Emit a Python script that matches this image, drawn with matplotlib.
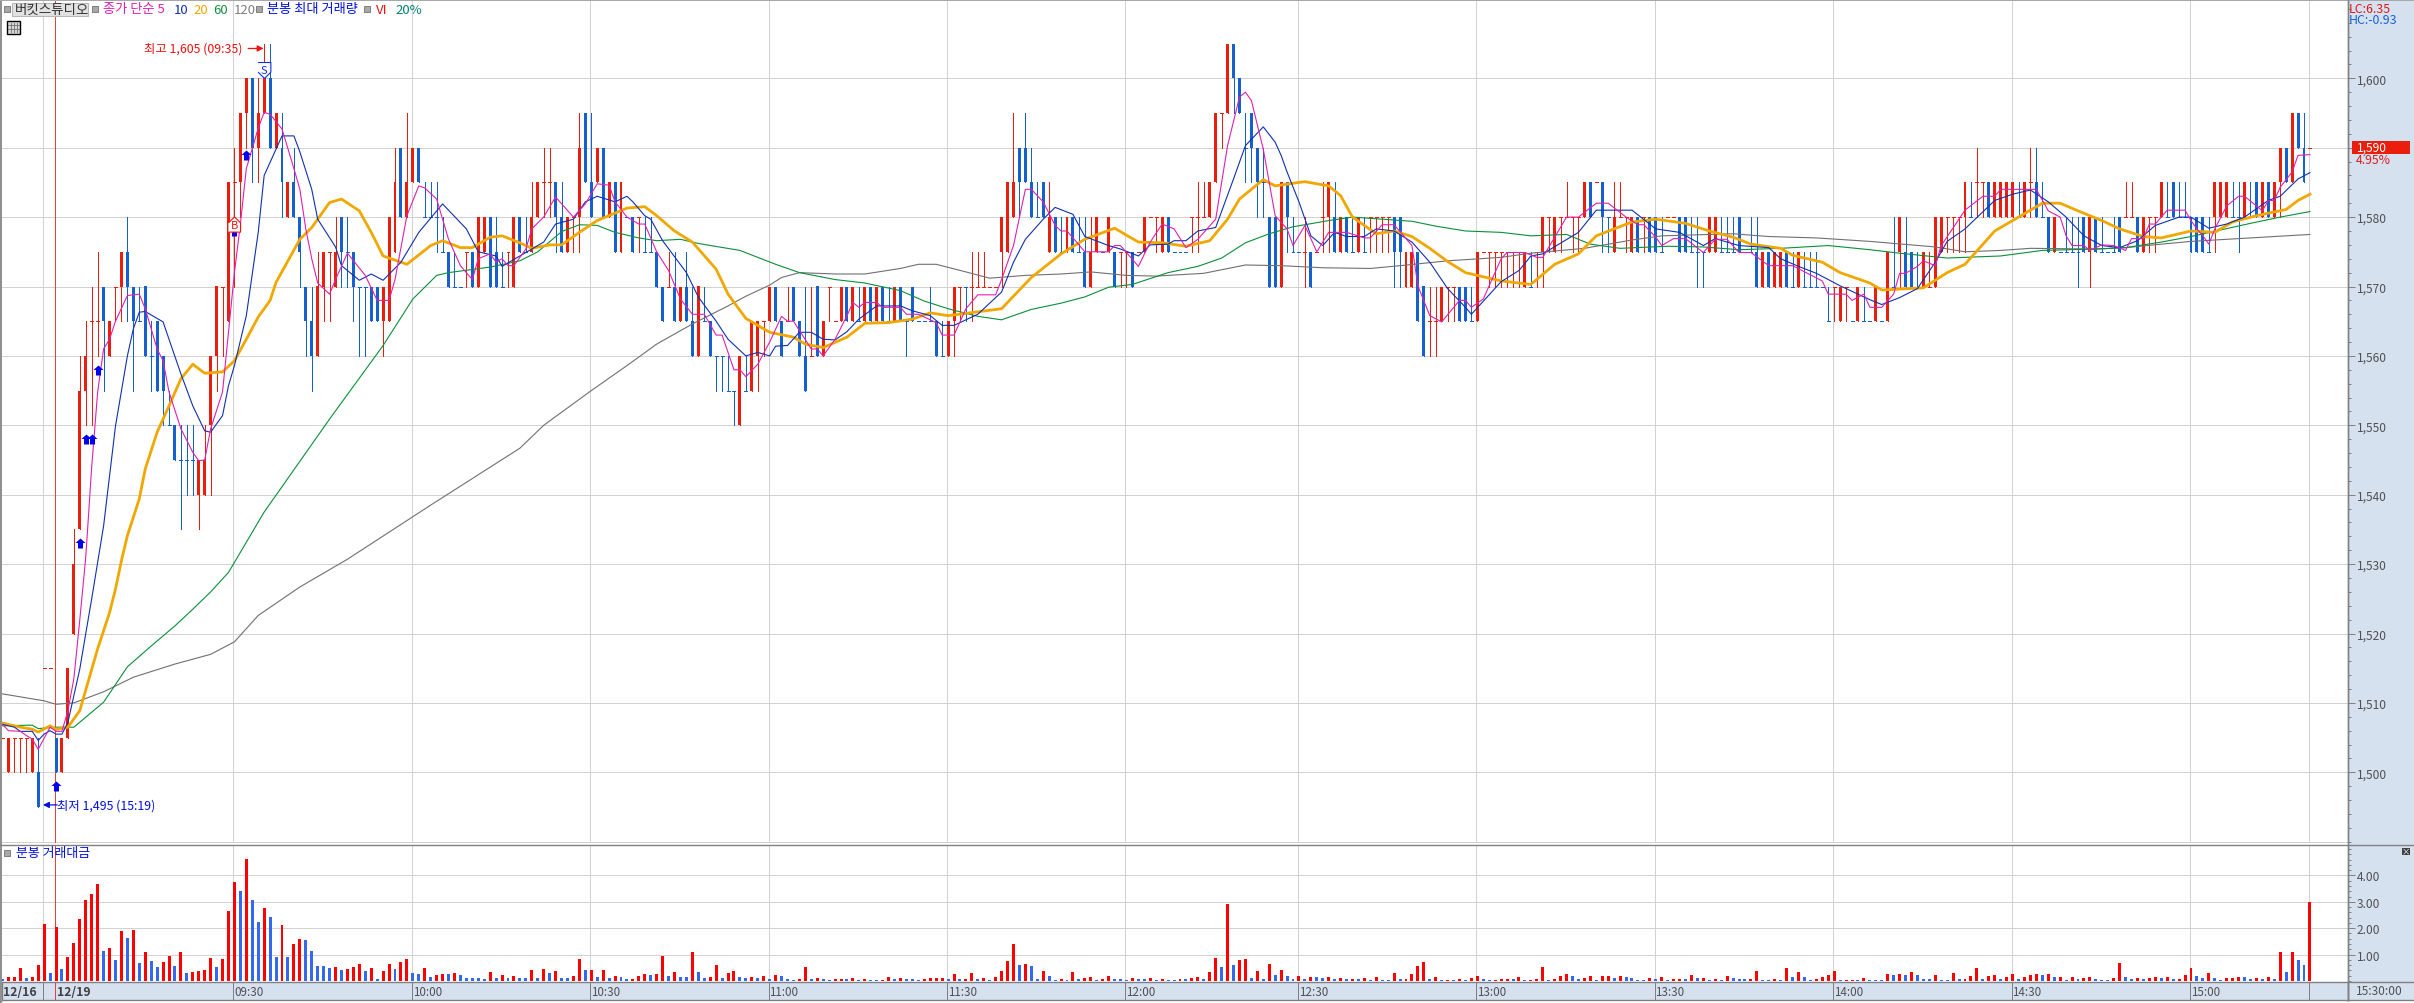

# minute chart of one trading session with moving averages and traded value below
import matplotlib
matplotlib.use('Agg')
import numpy as np
import matplotlib.pyplot as plt
from matplotlib.patches import Rectangle

plt.rcParams['font.family'] = ['Noto Sans CJK KR', 'DejaVu Sans']

# prices per bar
opens = [1505,1500,1505,1505,1505,1500,1500,1515,1515,1505, 1500,1505,1520,1535,1555,1565,1565,1570,1560,1570,
 1570,1575,1570,1565,1570,1560,1565,1560,1550,1550, 1545,1545,1545,1540,1540,1550,1560,1570,1565,1585,
 1585,1595,1600,1590,1595,1600,1590,1590,1580,1585, 1580,1570,1565,1560,1570,1575,1570,1580,1575,1575,
 1570,1570,1570,1570,1565,1565,1575,1590,1580,1585, 1590,1580,1580,1580,1575,1575,1570,1570,1575,1575,
 1570,1575,1580,1575,1570,1575,1570,1580,1575,1575, 1580,1585,1585,1585,1580,1575,1580,1580,1595,1585,
 1585,1590,1580,1585,1575,1580,1580,1580,1575,1575, 1575,1570,1570,1570,1565,1570,1565,1560,1565,1565,
 1560,1560,1555,1555,1550,1555,1555,1560,1565,1565, 1570,1565,1565,1570,1565,1560,1560,1570,1560,1570,
 1565,1565,1570,1565,1565,1565,1570,1565,1570,1565, 1565,1570,1565,1570,1565,1565,1565,1565,1560,1560,
 1565,1570,1570,1570,1570,1570,1570,1570,1575,1575, 1580,1590,1590,1585,1580,1585,1575,1580,1575,1575,
 1580,1575,1575,1570,1575,1575,1575,1575,1575,1575, 1575,1575,1575,1580,1580,1575,1580,1575,1575,1575,
 1580,1580,1580,1580,1585,1595,1595,1605,1600,1590, 1595,1590,1585,1580,1580,1570,1585,1575,1575,1575,
 1575,1575,1580,1580,1580,1575,1580,1575,1575,1575, 1580,1580,1580,1580,1580,1580,1570,1570,1575,1570,
 1565,1565,1565,1570,1570,1570,1570,1565,1565,1575, 1575,1575,1575,1575,1575,1575,1570,1570,1575,1575,
 1580,1575,1580,1580,1580,1580,1580,1585,1585,1585, 1580,1575,1580,1580,1575,1580,1580,1580,1580,1575,
 1580,1580,1580,1580,1575,1575,1575,1575,1575,1575, 1575,1575,1580,1575,1575,1575,1570,1575,1570,1570,
 1575,1570,1570,1570,1570,1570,1570,1565,1570,1565, 1570,1565,1565,1565,1565,1565,1565,1565,1570,1575,
 1575,1575,1570,1570,1570,1570,1575,1580,1580,1580, 1580,1580,1585,1585,1585,1580,1580,1580,1580,1580,
 1580,1585,1585,1580,1580,1575,1575,1575,1575,1575, 1580,1575,1580,1575,1575,1575,1580,1580,1580,1580,
 1575,1580,1580,1580,1580,1585,1580,1580,1580,1580, 1580,1575,1580,1580,1580,1580,1580,1580,1580,1585,
 1580,1585,1580,1585,1590,1585,1595,1590,1590]
closes = [1505,1505,1505,1505,1505,1505,1495,1515,1515,1500, 1505,1515,1530,1555,1560,1565,1565,1565,1565,1570,
 1575,1570,1565,1565,1560,1560,1555,1555,1550,1545, 1545,1545,1545,1545,1545,1560,1570,1570,1585,1585,
 1595,1600,1590,1595,1600,1590,1595,1585,1585,1580, 1575,1565,1560,1570,1575,1575,1575,1575,1575,1570,
 1570,1570,1565,1565,1570,1580,1585,1580,1585,1590, 1585,1580,1580,1580,1575,1570,1570,1570,1575,1570,
 1580,1580,1570,1570,1570,1575,1580,1575,1575,1580, 1585,1585,1585,1580,1575,1580,1580,1590,1585,1580,
 1590,1580,1585,1575,1585,1580,1575,1580,1575,1575, 1570,1565,1570,1565,1570,1565,1560,1570,1565,1560,
 1560,1560,1555,1555,1560,1555,1565,1565,1565,1570, 1565,1560,1565,1565,1560,1555,1560,1560,1565,1570,
 1565,1570,1565,1570,1565,1570,1565,1570,1565,1565, 1570,1565,1565,1565,1565,1565,1565,1560,1560,1565,
 1570,1570,1570,1570,1570,1570,1570,1570,1580,1585, 1585,1585,1585,1580,1580,1580,1580,1575,1575,1580,
 1575,1575,1570,1575,1580,1575,1580,1570,1575,1575, 1570,1575,1580,1580,1580,1580,1575,1575,1575,1575,
 1580,1580,1580,1585,1595,1595,1605,1600,1595,1590, 1590,1585,1585,1570,1570,1585,1580,1575,1575,1575,
 1570,1575,1580,1585,1575,1580,1575,1575,1580,1575, 1580,1580,1580,1580,1575,1575,1575,1575,1565,1560,
 1565,1565,1570,1570,1570,1565,1565,1565,1575,1575, 1575,1575,1575,1575,1575,1575,1575,1570,1575,1580,
 1580,1580,1580,1580,1580,1580,1585,1580,1585,1580, 1580,1580,1580,1580,1580,1575,1580,1575,1575,1575,
 1580,1580,1575,1575,1575,1575,1575,1580,1580,1575, 1575,1575,1575,1575,1575,1570,1575,1570,1575,1575,
 1570,1570,1575,1570,1570,1570,1570,1565,1570,1570, 1570,1565,1570,1565,1565,1570,1565,1575,1570,1580,
 1570,1570,1570,1575,1570,1580,1580,1580,1580,1580, 1585,1580,1585,1585,1580,1585,1585,1585,1585,1580,
 1585,1585,1580,1580,1575,1580,1575,1575,1575,1575, 1575,1580,1575,1575,1575,1575,1575,1580,1580,1575,
 1580,1580,1580,1585,1580,1580,1580,1580,1575,1575, 1575,1575,1585,1585,1585,1580,1580,1585,1580,1580,
 1585,1580,1585,1590,1585,1595,1590,1585,1590]
highs = [1505,1505,1505,1505,1505,1505,1505,1515,1515,1505, 1505,1515,1535,1560,1565,1570,1575,1570,1565,1570,
 1575,1580,1570,1570,1570,1565,1565,1560,1555,1550, 1550,1550,1550,1545,1550,1560,1570,1570,1585,1590,
 1595,1600,1600,1600,1605,1605,1595,1595,1585,1590, 1580,1570,1570,1575,1575,1575,1580,1580,1580,1575,
 1570,1570,1570,1570,1570,1580,1590,1590,1595,1590, 1590,1585,1585,1585,1580,1575,1575,1570,1575,1575,
 1580,1580,1580,1580,1575,1575,1580,1580,1580,1585, 1585,1590,1590,1585,1585,1580,1580,1595,1595,1595,
 1590,1590,1585,1585,1585,1580,1580,1580,1580,1580, 1575,1570,1575,1575,1570,1575,1570,1570,1570,1565,
 1560,1560,1560,1555,1560,1560,1565,1565,1565,1570, 1570,1565,1570,1570,1565,1570,1570,1570,1565,1570,
 1565,1570,1570,1570,1570,1570,1570,1570,1570,1570, 1570,1570,1565,1570,1565,1565,1570,1565,1565,1565,
 1570,1570,1570,1575,1575,1575,1570,1570,1580,1585, 1595,1590,1595,1590,1585,1585,1585,1580,1580,1580,
 1580,1580,1580,1580,1580,1575,1580,1575,1575,1575, 1575,1575,1580,1580,1580,1580,1580,1575,1575,1575,
 1580,1585,1585,1585,1595,1595,1605,1605,1600,1595, 1595,1590,1590,1580,1580,1585,1585,1580,1575,1580,
 1575,1575,1585,1585,1585,1580,1580,1580,1580,1580, 1580,1580,1580,1580,1580,1580,1575,1575,1575,1570,
 1570,1570,1570,1570,1570,1570,1570,1570,1575,1575, 1575,1575,1575,1575,1575,1575,1575,1575,1575,1580,
 1580,1580,1580,1585,1580,1580,1585,1585,1585,1585, 1580,1585,1585,1580,1580,1580,1580,1580,1580,1580,
 1580,1580,1580,1580,1580,1580,1575,1580,1580,1580, 1580,1580,1580,1575,1580,1580,1575,1575,1575,1575,
 1575,1575,1575,1575,1575,1575,1570,1570,1570,1570, 1570,1565,1570,1570,1565,1570,1565,1575,1580,1580,
 1580,1575,1575,1575,1575,1580,1580,1580,1580,1580, 1585,1585,1590,1585,1585,1585,1585,1585,1585,1585,
 1585,1590,1590,1585,1580,1580,1575,1580,1580,1580, 1580,1580,1580,1580,1575,1580,1580,1585,1585,1580,
 1580,1580,1580,1585,1585,1585,1585,1585,1580,1580, 1580,1580,1585,1585,1585,1585,1585,1585,1585,1585,
 1585,1585,1585,1590,1590,1595,1595,1595,1590]
lows = [1505,1500,1500,1500,1500,1500,1495,1515,1515,1500, 1500,1505,1520,1535,1550,1550,1560,1555,1560,1565,
 1565,1565,1555,1565,1560,1555,1555,1550,1550,1545, 1535,1540,1540,1535,1540,1540,1555,1560,1565,1570,
 1580,1590,1585,1585,1595,1590,1590,1580,1580,1580, 1570,1560,1555,1560,1565,1565,1570,1570,1570,1565,
 1560,1560,1565,1565,1560,1565,1575,1580,1580,1585, 1585,1580,1580,1575,1575,1570,1570,1570,1570,1570,
 1570,1575,1570,1570,1570,1570,1570,1575,1575,1575, 1580,1580,1580,1575,1575,1575,1575,1575,1585,1580,
 1585,1580,1580,1575,1575,1580,1575,1575,1575,1575, 1570,1565,1570,1565,1565,1565,1560,1560,1565,1560,
 1555,1555,1555,1550,1550,1555,1555,1555,1560,1565, 1565,1560,1565,1565,1560,1555,1560,1560,1560,1565,
 1565,1565,1565,1565,1565,1565,1565,1565,1565,1565, 1565,1565,1560,1565,1565,1565,1565,1560,1560,1560,
 1560,1565,1565,1565,1570,1570,1570,1570,1570,1575, 1580,1580,1585,1580,1580,1580,1575,1575,1575,1575,
 1575,1575,1570,1570,1575,1575,1575,1570,1570,1570, 1570,1575,1575,1580,1575,1575,1575,1575,1575,1575,
 1575,1575,1580,1580,1585,1590,1595,1595,1595,1585, 1585,1580,1580,1570,1570,1570,1575,1575,1575,1570,
 1570,1575,1575,1575,1575,1575,1575,1575,1575,1575, 1575,1575,1575,1575,1570,1570,1570,1570,1565,1560,
 1560,1560,1565,1565,1565,1565,1565,1565,1565,1575, 1570,1570,1570,1570,1570,1570,1570,1570,1570,1570,
 1575,1575,1575,1580,1575,1575,1580,1580,1585,1575, 1575,1575,1580,1575,1575,1575,1575,1575,1575,1575,
 1580,1580,1575,1575,1575,1570,1570,1575,1575,1575, 1575,1575,1575,1575,1575,1570,1570,1570,1570,1570,
 1570,1570,1570,1570,1570,1570,1570,1565,1565,1565, 1565,1565,1565,1565,1565,1565,1565,1565,1570,1570,
 1570,1570,1570,1570,1570,1570,1575,1575,1575,1575, 1575,1580,1580,1580,1580,1580,1580,1580,1580,1580,
 1580,1580,1580,1580,1575,1575,1575,1575,1575,1570, 1575,1570,1575,1575,1575,1575,1575,1580,1580,1575,
 1575,1575,1575,1580,1580,1580,1580,1580,1575,1575, 1575,1575,1575,1580,1580,1580,1575,1580,1580,1580,
 1580,1580,1580,1580,1585,1585,1590,1585,1590]
# R = rising bar, B = falling bar
bar_kinds = ("RRRRRRBRRB" "RRRRRRRBRR" "RBBBBBBBBB" "BBBRRRRRRR" "RRBRRBRBRB" "BBBRRRRBBB" "BBBBRRRBRR" "BBBBBBBBRB"
 "RRBBBRRBBR" "RRRBBRRRBB" "RBRBRBBRBB" "BBRBRBBRBB" "BBBBRBRRRR" "BBRBBBRBRR" "RRBRBRBRBB" "RBBBBBBBBR"
 "RRBRRRRRRR" "RBBBBBRBBR" "BBBRRBRBRR" "BRRRRRBBBB" "RRRRRRRBBB" "BBBBBRBBBR" "BRRRBRBBRB" "RRRRBBRRBB"
 "RRRRRBBBRR" "RRRRRRRBRR" "RRRRRRRBRB" "BRRRRBRBBB" "RRBBBBBRRB" "BBBBBBRBRR" "BBRBBBBBRR" "RBRBBRBRBR"
 "BBBRRRRRRR" "RBRRBRRRRB" "RRBBBRBBBB" "BRBBBBBRRB" "RRRRBBBBBB" "BBRRRBBRBB" "RBRRBRBBR")

# minute traded value, lower panel
trade_value = [.08,.15,.15,.49,.11,.15,.6,2.16,.3,2.05, .45,.91,1.44,2.35,3.07,3.3,3.67,1.14,1.25,.8,
 1.89,1.63,1.93,.68,1.1,.76,.53,.72,.95,.57, 1.1,.3,.34,.38,.42,.87,.53,.83,2.65,3.75,
 3.41,4.62,3.07,2.23,2.77,2.42,.91,2.12,.91,1.4, 1.59,1.55,1.14,.57,.57,.49,.53,.42,.45,.53,
 .64,.38,.49,.08,.38,.64,.45,.72,.83,.3, .27,.49,.15,.23,.27,.27,.3,.23,.11,.11,
 .11,.08,.34,.11,.23,.11,.19,.11,.11,.42, .11,.45,.3,.38,.11,.11,.19,.83,.42,.42,
 .15,.42,.11,.19,.15,.08,.08,.19,.27,.23, .27,.95,.19,.34,.15,.15,1.1,.34,.11,.15,
 .61,.11,.3,.38,.15,.11,.15,.11,.19,.08, .23,.19,.08,.04,.08,.53,.08,.11,.08,.04,
 .08,.08,.08,.11,.04,.08,.04,.04,.04,.15, .08,.11,.08,.08,.04,.08,.11,.11,.11,.08,
 .27,.08,.08,.3,.08,.11,.04,.15,.38,.76, 1.4,.61,.64,.57,.08,.38,.19,.04,.08,.04,
 .34,.08,.11,.15,.04,.08,.19,.08,.08,.04, .11,.08,.08,.11,.04,.08,.04,.04,.08,.08,
 .11,.15,.08,.34,.87,.53,2.92,.61,.8,.83, .11,.38,.08,.64,.23,.42,.19,.08,.19,.08,
 .15,.15,.11,.15,.08,.11,.08,.08,.08,.11, .04,.15,.04,.04,.3,.08,.08,.27,.57,.72,
 .08,.15,.04,.04,.04,.08,.04,.11,.19,.08, .04,.04,.08,.08,.08,.15,.04,.04,.08,.53,
 .04,.08,.19,.27,.19,.08,.11,.19,.04,.19, .19,.11,.19,.15,.11,.04,.04,.11,.08,.15,
 .04,.08,.08,.08,.23,.11,.11,.04,.08,.04, .19,.11,.08,.08,.08,.38,.04,.04,.08,.04,
 .49,.15,.34,.15,.04,.08,.15,.23,.38,.04, .04,.04,.04,.11,.04,.04,.04,.27,.23,.27,
 .23,.34,.23,.08,.08,.23,.04,.04,.3,.08, .08,.19,.49,.08,.19,.23,.08,.15,.27,.08,
 .15,.23,.27,.23,.27,.15,.15,.04,.15,.08, .11,.15,.08,.04,.04,.11,.68,.15,.08,.11,
 .08,.11,.15,.11,.15,.08,.08,.23,.49,.19, .11,.3,.11,.04,.11,.11,.15,.15,.08,.11,
 .08,.15,.08,1.1,.34,1.1,.8,.61,3.0]
value_kinds = ("BRRRBRRRBR" "BRRRRRRBRB" "RBRBRBBRRB" "RBRRRRBRRR" "BRBBRBBRBR" "RBBBBBRBRR" "RBRBRRBRRB" "BRBRRBRBBB"
 "BBRBRBRBBR" "BRBRBBRRBR" "BRBRBBRRRB" "RRBRBBRBBR" "RBRRBBRBRB" "RBBBRRBRBB" "RRBRBRBBRR" "BRBBBRRRRB"
 "RBRRBRBRRR" "RBRBBRBBRB" "RBRRBRRBBB" "RBBRBRBBRB" "RRBRRBRBRR" "BRBRBRBBRB" "RBBRBRBRBR" "BRBBRBRRRR"
 "BRBRBRBRRB" "BRRRBRBRRR" "BRRRBBRRBR" "RBRBBBBRBR" "BRRBRBRBRB" "RBBBRRBBRB" "RBRBBRRRRB" "RRBRBBBRBR"
 "BRBBBRBBRB" "RRRBRRBRRB" "RRRBRBRBRB" "RRBBBRRBBR" "BRRBRBRRRB" "BRBBRRRBBR" "BRBRBRBBR")

# moving averages, read at knots along each line
ma5_idx = [0,1,3,4,5,6,8,9,10,11,12,13,14,15,16,17,18,19,21,23,24,26,27,28,30,32,33,34,35,37,38,39,40,41,43,44,45,47,49,50,51,52,53,55,56,58,61,63,65,66,68,70,71,73,75,77,79,80,82,83,84,85,86,88,89,91,93,96,98,100,102,103,105,107,108,110,112,114,116,118,120,121,123,124,125,127,129,131,132,133,136,137,138,140,142,143,144,145,147,148,151,152,154,157,158,160,162,164,167,168,170,172,173,175,177,178,179,182,186,187,188,191,193,195,197,199,201,204,206,208,209,210,212,214,216,217,219,221,223,226,229,230,232,234,237,238,240,242,245,246,247,249,252,253,256,258,259,263,265,268,270,273,275,276,278,279,281,283,286,288,290,292,294,297,299,301,306,307,310,311,313,314,316,318,319,320,322,323,325,326,330,333,335,336,342,344,346,347,348,350,351,353,355,357,358,360,361,362,364,367,368,369,370,371,372,374,376,377,380,381,382,383,385,386,388]
ma5_val = [1506.9,1506,1505.9,1505.3,1504.8,1503.3,1506.5,1505.9,1505.9,1508.9,1513.5,1522,1531,1544,1554.8,1561,1562.4,1565,1568.7,1568.9,1566.8,1561,1559.3,1554.8,1549.5,1546.1,1544.9,1545,1549.5,1554.8,1563.4,1572,1579,1587,1592.8,1595.1,1594.8,1592.7,1587,1584,1578.3,1574,1570.5,1568.9,1571,1574.8,1571.6,1568,1568,1571,1580.2,1584.5,1584.2,1582.6,1576.8,1573,1571,1574,1574.7,1573.5,1574,1573,1573,1575.4,1578.3,1580,1582.9,1580,1581.9,1584.8,1584.6,1582.2,1580,1579,1579,1575,1572.3,1568.2,1566,1566,1563,1563,1558,1558,1557,1558.8,1562,1565.7,1565,1565,1561,1561,1560,1562.4,1565.8,1567.7,1567,1567.7,1567.7,1567,1567,1566,1566,1564.8,1563,1563,1566.8,1568.8,1568.8,1571,1575.9,1584,1584,1582.2,1578.8,1578,1578,1575,1575,1575.9,1575.9,1572.9,1576.4,1579,1578.3,1575.6,1576.8,1579.7,1590.3,1597.3,1598,1596.8,1589.8,1580.2,1578.3,1575.9,1578.8,1575,1577.8,1577.8,1577,1577,1578.9,1578.9,1575.9,1570.1,1565.8,1564.9,1568,1568,1567,1568.2,1574,1574.9,1574.9,1574.2,1574.2,1580,1580,1582,1582,1580,1578.9,1578.9,1577.1,1575.9,1576.9,1576.9,1574.9,1576.8,1576.8,1574.9,1574.9,1573,1573,1573,1570.8,1568.9,1568.9,1568,1568.9,1567,1567,1568.9,1571.9,1571.9,1572.9,1573.7,1573,1575.9,1581,1583,1583,1584,1584,1580.9,1580,1577.3,1575.9,1575.9,1575.2,1576,1575.9,1575.2,1576.9,1576.9,1579,1579,1581,1581,1579.5,1578.3,1577.3,1576.1,1578.3,1581.6,1583,1583,1580.9,1582.4,1582.4,1584.3,1586.5,1588.9,1589]
ma10_idx = [0,2,3,5,6,7,8,9,10,11,13,14,15,17,18,19,21,22,23,24,27,28,30,32,34,35,37,38,39,41,43,44,46,47,49,50,52,53,56,57,60,62,64,67,70,74,78,80,83,84,87,89,91,93,96,98,100,103,105,106,108,109,111,115,117,120,122,125,127,129,130,132,134,136,138,140,142,144,147,151,153,156,158,160,164,168,170,172,175,177,180,182,186,188,191,193,196,197,199,201,204,207,209,212,214,215,216,218,220,222,224,226,229,231,234,237,240,243,246,247,252,255,257,259,265,268,274,278,282,286,288,292,297,299,302,305,309,314,316,319,322,325,327,330,335,338,341,344,347,350,353,356,359,362,366,368,371,374,377,381,383,386,388]
ma10_val = [1506.9,1506.5,1505.9,1505.9,1504.6,1505.5,1506,1505.5,1505.5,1507.2,1514.9,1520,1525,1535.5,1542.7,1549.9,1560,1563.9,1566.3,1566.4,1564.9,1562.4,1557.4,1552.8,1549.2,1549,1551.4,1555.7,1558.6,1565.8,1577.8,1586,1589.8,1591.7,1591.7,1589.4,1584,1579.7,1575.7,1573,1570.9,1571.8,1570.9,1573.5,1577.8,1581.9,1578.3,1575,1574.4,1572.9,1574.4,1575.4,1576.4,1579,1579.7,1582.2,1583,1582.2,1583,1582.2,1580.2,1579.7,1576.6,1572,1568.5,1565,1562.4,1560,1560.5,1560,1561.4,1561.5,1563.4,1563.4,1562.4,1562.3,1563.5,1565.3,1567.2,1567.2,1566.5,1565.8,1564.4,1564.4,1566,1569.2,1573.5,1576.8,1579.7,1581.4,1580.4,1577.2,1575.9,1575.4,1574.4,1576,1576.1,1576.6,1576.6,1578,1578.5,1585.5,1590.3,1593,1590.8,1588.9,1586.5,1582.2,1577.3,1575.9,1577.8,1577.2,1577.2,1578.3,1578,1576.4,1573.5,1569.7,1567,1566,1570.7,1572.3,1574.4,1574.7,1577.8,1581,1581,1578.3,1577.8,1575.9,1576.9,1575.9,1575.6,1574,1572.9,1571.9,1570.1,1568.1,1567.4,1568.4,1569.7,1573.5,1576.5,1578.3,1582.4,1583.3,1583.9,1582.2,1580,1577.3,1575.9,1575.6,1576.6,1578.8,1580,1580,1578.4,1579,1580,1582.4,1583,1585.5,1586.4]
ma20_idx = [0,3,5,6,8,9,11,13,16,18,19,20,21,23,24,26,28,30,32,34,37,39,41,43,45,46,50,52,55,57,60,62,64,68,72,74,77,79,82,84,87,89,92,94,97,100,105,108,110,113,116,120,122,125,129,133,135,138,142,145,149,153,156,159,168,173,178,182,187,191,195,199,203,206,208,212,214,218,219,223,225,227,231,234,237,240,243,246,252,257,261,265,268,274,278,283,287,291,294,299,301,306,309,314,316,323,327,330,335,339,343,346,349,353,356,360,363,368,372,375,379,384,386,388]
ma20_val = [1507.1,1506.5,1506.2,1505.8,1506.7,1506.2,1506.5,1508.9,1517.8,1523,1526.4,1530.5,1534.1,1539.4,1543.7,1549,1552.8,1556.7,1558.8,1557.5,1557.7,1559.3,1562.4,1565.6,1568,1570.6,1576.8,1578.5,1582.1,1582.6,1580.9,1577.8,1574.4,1573.2,1575.9,1576.6,1575.6,1575.6,1577.1,1577.3,1576.3,1575.5,1576,1576,1577.8,1579.5,1581.3,1581.5,1580.2,1578,1576.4,1572.5,1568.9,1565.4,1563.4,1562.7,1561.7,1561.2,1562.7,1564.7,1564.8,1565.3,1566.2,1565.8,1566.8,1571.3,1574.7,1576.8,1578.4,1576.4,1576.3,1575.8,1576.6,1579.7,1582.6,1585.4,1584.5,1585,1585.1,1584.5,1583.1,1580,1577.6,1578,1577.2,1575.5,1573.6,1572,1570.8,1570.3,1573.2,1574.7,1577.3,1579.3,1579.7,1579.1,1578,1577.1,1576.1,1575.5,1574.5,1573.5,1572,1570.5,1569.5,1569.8,1572,1573.2,1578,1580,1582,1582,1580.9,1579.5,1578.3,1577.2,1577,1578,1577.8,1579.3,1580.2,1581.1,1582.4,1583.3]
ma60_idx = [0,5,6,9,12,17,21,25,29,32,35,38,44,55,64,69,73,75,82,87,90,94,97,100,103,107,110,114,117,124,127,130,134,140,145,151,155,159,164,168,173,178,182,186,190,196,201,205,209,213,217,223,227,237,241,246,252,257,263,267,272,280,286,292,299,307,314,319,327,336,343,352,357,363,368,378,383,388]
ma60_val = [1506.7,1506.8,1506.3,1506.5,1506.5,1510.1,1515.2,1518.2,1521.1,1523.5,1526,1528.8,1537.5,1550.9,1561.5,1568.2,1571.6,1572,1572.8,1573.7,1575,1577.9,1578.9,1578.8,1577.8,1577,1576.6,1576.8,1576.2,1575.2,1574.2,1573.2,1572,1571,1570.5,1569.4,1567.9,1566.8,1565.7,1565.2,1566.7,1567.6,1568.5,1569.9,1570.3,1572,1572.9,1574.1,1576.3,1577.6,1578.6,1579.5,1580,1579.4,1578.7,1578,1577.8,1577.3,1577.5,1576.1,1575.5,1575.8,1575.7,1575.3,1575.5,1575.9,1575.3,1574.8,1574.1,1574.4,1575.2,1575.4,1575.6,1576.4,1577.2,1579.1,1580,1580.8]
ma120_idx = [0,7,9,12,17,22,29,35,39,43,50,58,72,87,91,99,105,110,116,122,125,129,131,134,140,145,151,154,157,162,166,172,178,183,189,194,202,209,215,222,230,235,243,252,257,266,274,279,291,297,305,314,325,330,336,341,352,357,363,368,378,388]
ma120_val = [1511.3,1510.3,1509.8,1510,1511.6,1513.7,1515.6,1517,1518.8,1522.6,1526.7,1530.7,1538.5,1546.7,1550,1555,1558.6,1561.7,1564.6,1567.2,1568.6,1570.2,1571.3,1572,1571.8,1571.8,1572.6,1573.2,1573.2,1572.1,1571.2,1571.6,1571.8,1572.1,1571.6,1571.5,1571.9,1573.1,1573,1572.7,1572.6,1573,1573.7,1574.2,1574.8,1575.5,1576.7,1577.3,1577.6,1577.2,1577,1576.5,1575.7,1575,1575.2,1575.5,1575.4,1575.6,1576.1,1576.5,1577,1577.5]

# time axis
time_idx = [39,69,99,129,159,189,218,248,278,308,338,368]
time_labels = ['09:30','10:00','10:30','11:00','11:30','12:00','12:30','13:00','13:30','14:00','14:30','15:00']
extra_grid_idx = [7,388]
price_ticks = list(range(1500,1601,10))
value_ticks = [1,2,3,4]

# signal arrows under the bars
arrow_idx = [9,13,14,15,16,39,41]
arrow_price = [1498,1533,1548,1548,1558,1578,1589]

W = 2414
H = 1004
# pixel layout
left = 2
right = 2347.7
main_top = 2
main_bottom = 843.5
vol_top = 846
vol_bottom = 982
strip_bottom = 1001
x_pitch = 5.947
x_start = 2.5
y_1500 = 773.3
y_per_won = 6.94
val_px = 26.4

red = '#EA1E0C'
blue = '#1460D0'
grid_c = '#D2D2D2'
frame_c = '#808080'
panel_c = '#D6E1F0'
text_c = '#505050'

fig = plt.figure(figsize=(W / 100, H / 100), dpi=100, facecolor='white')

def box(x0, y0, x1, y1):
    return [x0 / W, 1 - y1 / H, (x1 - x0) / W, (y1 - y0) / H]

x_lim = ((left - x_start) / x_pitch, (right - x_start) / x_pitch)
ax = fig.add_axes(box(left, main_top, right, main_bottom))
ax_v = fig.add_axes(box(left, vol_top, right, vol_bottom))
ax_t = fig.add_axes(box(left, vol_bottom + 1, right, strip_bottom))

ax.set_xlim(x_lim)
ax_v.set_xlim(x_lim)
ax_t.set_xlim(x_lim)
ax.set_ylim(1500 + (y_1500 - main_bottom) / y_per_won, 1500 + (y_1500 - main_top) / y_per_won)
ax_v.set_ylim(0, (vol_bottom - vol_top) / val_px)
ax_t.set_ylim(0, 1)

x = np.arange(len(closes))
o = np.array(opens, dtype=float)
c = np.array(closes, dtype=float)
hi = np.array(highs, dtype=float)
lo = np.array(lows, dtype=float)
bar_c = [red if k == 'R' else blue for k in bar_kinds]
line_w = 0.72

# grid
grid_x = [i - 0.18 for i in time_idx + extra_grid_idx]
for a in (ax, ax_v):
    a.vlines(grid_x, 0, 1, transform=a.get_xaxis_transform(), color=grid_c, lw=line_w, zorder=1, antialiased=False)
    a.vlines(8.85, 0, 1, transform=a.get_xaxis_transform(), color='#E64040', lw=line_w, zorder=1.5, antialiased=False)
ax.hlines(range(1490, 1601, 10), 0, 1, transform=ax.get_yaxis_transform(), color=grid_c, lw=line_w, zorder=1, antialiased=False)
ax_v.hlines(value_ticks, 0, 1, transform=ax_v.get_yaxis_transform(), color=grid_c, lw=line_w, zorder=1, antialiased=False)
ax_v.axhline(0, color=grid_c, lw=line_w, antialiased=False)

# candles
ax.vlines(x, lo, hi, colors=bar_c, lw=line_w, zorder=2, antialiased=False)
body_low = np.minimum(o, c)
body_h = np.abs(o - c)
ax.bar(x, body_h, bottom=body_low, width=0.5, color=bar_c, linewidth=0, zorder=2.1, antialiased=False)
flat = body_h == 0
ax.hlines(c[flat], x[flat] - 0.25, x[flat] + 0.25, colors=[b for b, f in zip(bar_c, flat) if f], lw=line_w, zorder=2.1, antialiased=False)

# moving averages
ax.plot(ma120_idx, ma120_val, color='#707070', lw=0.8, zorder=3)
ax.plot(ma60_idx, ma60_val, color='#089038', lw=0.8, zorder=3.1)
ax.plot(ma20_idx, ma20_val, color='#F0A800', lw=2.0, zorder=3.2)
ax.plot(ma10_idx, ma10_val, color='#1030B0', lw=0.8, zorder=3.3)
ax.plot(ma5_idx, ma5_val, color='#E020B0', lw=0.8, zorder=3.4)

# signal markers
up_arrow = [(0, 1), (1, 0.1), (0.5, 0.1), (0.5, -1), (-0.5, -1), (-0.5, 0.1), (-1, 0.1)]
ax.scatter(arrow_idx, arrow_price, marker=up_arrow, s=52, color='#0000F0', linewidths=0, zorder=4)
sell_flag = [(-0.8, 1), (0.8, 1), (0.8, -0.2), (0, -1), (-0.8, -0.2)]
buy_flag = [(-0.8, -1), (0.8, -1), (0.8, 0.2), (0, 1), (-0.8, 0.2)]
ax.scatter([44], [1601.2], marker=sell_flag, s=132, facecolor='white', edgecolor='#1030E0', linewidths=0.8, zorder=5)
ax.text(44, 1601.2, 'S', color='#1030E0', fontsize=8, ha='center', va='center', zorder=6)
ax.scatter([39], [1579], marker=buy_flag, s=120, facecolor='white', edgecolor='#F01010', linewidths=0.8, zorder=5)
ax.text(39, 1578.8, 'B', color='#F01010', fontsize=8, ha='center', va='center', zorder=6)

# high and low notes
ax.text(40.4, 1604.4, '최고 1,605 (09:35)', color='#F01010', fontsize=8.9, ha='right', va='center', zorder=6)
ax.annotate('', xy=(43.9, 1604.3), xytext=(41.3, 1604.3), zorder=6,
            arrowprops=dict(arrowstyle='-|>', color='#F01010', lw=0.9, shrinkA=0, shrinkB=0, mutation_scale=9))
ax.text(9.2, 1495.3, '최저 1,495 (15:19)', color='#0010E0', fontsize=8.9, ha='left', va='center', zorder=6)
ax.annotate('', xy=(6.8, 1495.3), xytext=(9.2, 1495.3), zorder=6,
            arrowprops=dict(arrowstyle='-|>', color='#0010E0', lw=0.9, shrinkA=0, shrinkB=0, mutation_scale=9))

# traded value bars
val_c = ['#FF0000' if k == 'R' else '#3568F0' for k in value_kinds]
ax_v.bar(x, trade_value, width=0.5, color=val_c, linewidth=0, zorder=2, antialiased=False)

# right hand scales
for a, ticks, minor in ((ax, price_ticks, np.arange(1490, 1612, 2)), (ax_v, value_ticks, np.arange(0, 5.01, 0.2))):
    a.set_xticks([])
    a.yaxis.tick_right()
    a.set_yticks(ticks)
    a.set_yticks(minor, minor=True)
    a.tick_params(axis='y', which='major', length=5, width=line_w, color=frame_c, labelcolor=text_c, labelsize=8.6, pad=1.5)
    a.tick_params(axis='y', which='minor', length=2.2, width=line_w, color=frame_c)
    for s in a.spines.values():
        s.set_visible(False)
    a.spines['right'].set_visible(True)
    a.spines['right'].set_color(frame_c)
    a.spines['right'].set_linewidth(1)
    a.patch.set_alpha(0)
ax.set_yticklabels([f'{p:,}' for p in price_ticks])
ax_v.set_yticklabels([f'{v:.2f}' for v in value_ticks])

# time strip
ax_t.set_facecolor(panel_c)
ax_t.set_xticks([])
ax_t.set_yticks([])
for s in ax_t.spines.values():
    s.set_color(frame_c)
    s.set_linewidth(1)
ax_t.vlines(grid_x, 0, 1, color=frame_c, lw=line_w, antialiased=False)
ax_t.vlines(8.85, 0, 1, color='#E64040', lw=line_w, antialiased=False)
for i, t in zip(time_idx, time_labels):
    ax_t.text(i - 0.05, 0.46, t, color=text_c, fontsize=8.4, ha='left', va='center')
ax_t.text(0.1, 0.46, '12/16', color='#404040', fontsize=8.8, weight='bold', ha='left', va='center')
ax_t.text(9.1, 0.46, '12/19', color='#404040', fontsize=8.8, weight='bold', ha='left', va='center')

# chrome drawn in picture pixels, under and over the panels
bg = fig.add_axes([0, 0, 1, 1], zorder=-1)
bg.set_xlim(0, W)
bg.set_ylim(H, 0)
bg.axis('off')
bg.add_patch(Rectangle((right, 0), W - right, strip_bottom, facecolor=panel_c, edgecolor='none'))

top = fig.add_axes([0, 0, 1, 1], zorder=10)
top.set_xlim(0, W)
top.set_ylim(H, 0)
top.axis('off')
top.patch.set_alpha(0)
top.add_patch(Rectangle((0, 0), 1.5, H, facecolor='#909090', edgecolor='none'))
top.add_patch(Rectangle((0, 0.5), W, 1.2, facecolor='#A8A8A8', edgecolor='none'))
top.plot([0, right], [845.5, 845.5], color=frame_c, lw=1)
top.plot([right, W], [845.5, 845.5], color=frame_c, lw=1)
top.plot([right, right], [0, strip_bottom], color=frame_c, lw=1)
top.plot([right, W], [983, 983], color=frame_c, lw=1)
top.plot([right, W], [strip_bottom, strip_bottom], color=frame_c, lw=1)
top.plot([right, right], [983, strip_bottom], color=frame_c, lw=1)

def px_text(x0, y0, s, color, size=9.5, **kw):
    top.text(x0, y0, s, color=color, fontsize=size, ha=kw.pop('ha', 'left'), va='center', **kw)

def small_square(x0, y0):
    top.add_patch(Rectangle((x0 - 3, y0 - 3), 6, 6, facecolor='#A8A8A8', edgecolor='#707070', lw=0.6))

# header row
small_square(6.5, 10)
top.add_patch(Rectangle((12, 3.5), 76, 13.5, facecolor='#E2E2E2', edgecolor='#B8B8B8', lw=0.8))
px_text(15, 10, '버킷스튜디오', '#303030', size=9.7)
small_square(94.5, 10)
px_text(103, 10, '종가 단순 5', '#E020B0')
px_text(174, 10, '10', '#1030B0')
px_text(193, 10, '20', '#F0A800')
px_text(213, 10, '60', '#109040')
px_text(234, 10, '120', '#808080')
small_square(258.5, 10)
px_text(267, 10, '분봉 최대 거래량', '#0010E0')
small_square(366.5, 10)
px_text(376, 10, 'VI', '#F01010')
px_text(395, 10, '20%', '#008070')

# lower panel title
small_square(6.5, 854)
px_text(16, 854, '분봉 거래대금', '#0010E0', size=9.3)

# table icon
top.add_patch(Rectangle((6.5, 21.5), 13, 13, facecolor='#D8D8D8', edgecolor='black', lw=1))
for gx in (10.5, 13.5, 16.5):
    top.plot([gx, gx], [24, 33], color='#707070', lw=0.6)
for gy in (26, 29.5):
    top.plot([8, 18.5], [gy, gy], color='#707070', lw=0.6)

# right side notes
px_text(2349, 9.5, 'LC:6.35', '#E01818', size=8.9)
px_text(2349, 21, 'HC:-0.93', '#1860D8', size=8.9)
top.add_patch(Rectangle((2352, 142), 58, 12.7, facecolor='#EA1E0C', edgecolor='none'))
px_text(2357, 148, '1,590', 'white', size=8.6)
px_text(2356, 160.5, '4.95%', '#E01818', size=8.8)
px_text(2356, 991.5, '15:30:00', text_c, size=8.6)

# close box of the lower panel
top.add_patch(Rectangle((2402, 849), 8, 7, facecolor='#404040', edgecolor='none'))
top.text(2406, 852.3, '×', color='white', fontsize=6, ha='center', va='center')

fig.savefig('out.png', dpi=100)
plt.close(fig)
